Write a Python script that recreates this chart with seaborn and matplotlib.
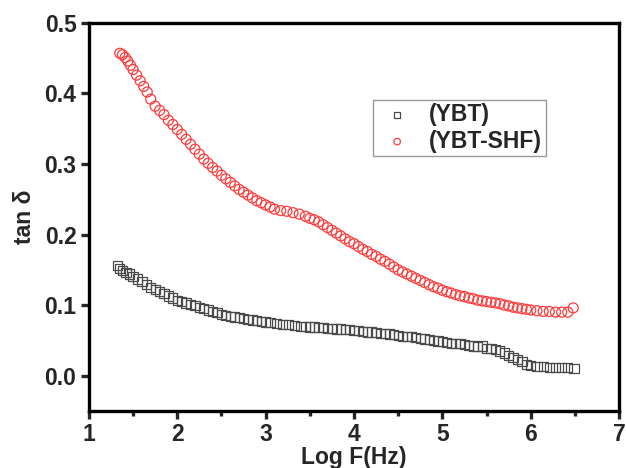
import matplotlib
matplotlib.use("Agg")
import matplotlib.pyplot as plt
import seaborn as sns
from matplotlib.ticker import MultipleLocator

# tan delta vs log frequency
ybt_logf = [1.32, 1.35, 1.38, 1.42, 1.46, 1.50, 1.55, 1.60, 1.65, 1.70,
            1.75, 1.80, 1.85, 1.90, 1.95, 2.00, 2.05, 2.10, 2.15, 2.20,
            2.25, 2.30, 2.35, 2.40, 2.45, 2.50, 2.55, 2.60, 2.65, 2.70,
            2.75, 2.80, 2.85, 2.90, 2.95, 3.00, 3.05, 3.12, 3.19, 3.26,
            3.33, 3.40, 3.45, 3.50, 3.55, 3.60, 3.65, 3.70, 3.75, 3.80,
            3.85, 3.90, 3.95, 4.00, 4.05, 4.10, 4.15, 4.20, 4.25, 4.30,
            4.35, 4.40, 4.45, 4.50, 4.55, 4.60, 4.65, 4.70, 4.75, 4.80,
            4.85, 4.90, 4.95, 5.00, 5.05, 5.10, 5.15, 5.20, 5.25, 5.30,
            5.35, 5.40, 5.45, 5.50, 5.55, 5.60, 5.65, 5.70, 5.75, 5.80,
            5.85, 5.90, 5.95, 6.00, 6.07, 6.14, 6.21, 6.28, 6.35, 6.42,
            6.49]
ybt_tan = [0.156, 0.152, 0.149, 0.146, 0.144, 0.141, 0.137, 0.133, 0.129, 0.125,
           0.122, 0.119, 0.116, 0.113, 0.110, 0.107, 0.105, 0.103, 0.101, 0.099,
           0.097, 0.095, 0.093, 0.091, 0.089, 0.087, 0.085, 0.084, 0.083, 0.082,
           0.081, 0.080, 0.079, 0.078, 0.077, 0.076, 0.075, 0.074, 0.073, 0.072,
           0.071, 0.070, 0.070, 0.069, 0.069, 0.068, 0.068, 0.067, 0.067, 0.066,
           0.066, 0.065, 0.065, 0.064, 0.064, 0.063, 0.062, 0.062, 0.061, 0.060,
           0.060, 0.059, 0.058, 0.057, 0.056, 0.055, 0.055, 0.054, 0.053, 0.052,
           0.051, 0.050, 0.049, 0.048, 0.047, 0.046, 0.045, 0.045, 0.044, 0.043,
           0.042, 0.041, 0.042, 0.039, 0.038, 0.037, 0.035, 0.032, 0.029, 0.026,
           0.023, 0.020, 0.016, 0.014, 0.013, 0.013, 0.012, 0.012, 0.011, 0.011,
           0.010]

shf_logf = [1.35, 1.38, 1.41, 1.44, 1.47, 1.50, 1.54, 1.58, 1.62, 1.66,
            1.70, 1.75, 1.80, 1.85, 1.90, 1.95, 2.00, 2.05, 2.10, 2.15,
            2.20, 2.25, 2.30, 2.35, 2.40, 2.45, 2.50, 2.55, 2.60, 2.65,
            2.70, 2.75, 2.80, 2.85, 2.90, 2.95, 3.00, 3.05, 3.10, 3.17,
            3.24, 3.31, 3.38, 3.45, 3.50, 3.55, 3.60, 3.65, 3.70, 3.75,
            3.80, 3.85, 3.90, 3.95, 4.00, 4.05, 4.10, 4.15, 4.20, 4.25,
            4.30, 4.35, 4.40, 4.45, 4.50, 4.55, 4.60, 4.65, 4.70, 4.75,
            4.80, 4.85, 4.90, 4.95, 5.00, 5.05, 5.10, 5.15, 5.20, 5.25,
            5.30, 5.35, 5.40, 5.45, 5.50, 5.55, 5.60, 5.65, 5.70, 5.75,
            5.80, 5.85, 5.90, 5.95, 6.00, 6.07, 6.14, 6.21, 6.28, 6.35,
            6.42, 6.48]
shf_tan = [0.457, 0.455, 0.451, 0.446, 0.440, 0.434, 0.426, 0.418, 0.410, 0.402,
           0.392, 0.382, 0.376, 0.370, 0.362, 0.356, 0.349, 0.342, 0.335, 0.328,
           0.321, 0.314, 0.307, 0.301, 0.295, 0.290, 0.284, 0.279, 0.274, 0.269,
           0.264, 0.260, 0.256, 0.252, 0.248, 0.245, 0.242, 0.239, 0.236, 0.234,
           0.233, 0.231, 0.229, 0.226, 0.223, 0.221, 0.218, 0.214, 0.210, 0.206,
           0.202, 0.198, 0.194, 0.190, 0.187, 0.183, 0.179, 0.176, 0.172, 0.169,
           0.165, 0.162, 0.158, 0.154, 0.150, 0.147, 0.144, 0.141, 0.138, 0.135,
           0.132, 0.129, 0.126, 0.124, 0.121, 0.119, 0.117, 0.115, 0.113, 0.112,
           0.110, 0.109, 0.107, 0.106, 0.105, 0.104, 0.103, 0.102, 0.100, 0.099,
           0.097, 0.096, 0.095, 0.094, 0.093, 0.092, 0.091, 0.091, 0.090, 0.090,
           0.090, 0.096]

sns.set_style("white")
plt.rcParams["font.family"] = ["Liberation Sans", "DejaVu Sans"]
plt.rcParams["font.weight"] = "bold"

fig = plt.figure(figsize=(6.26, 4.68), dpi=100)
ax = fig.add_axes([0.142, 0.122, 0.847, 0.829])

sns.scatterplot(x=ybt_logf, y=ybt_tan, marker="s", s=44,
                facecolor="none", edgecolor="#4a4a4a", linewidth=0.9,
                label="(YBT)", ax=ax)
sns.scatterplot(x=shf_logf, y=shf_tan, marker="o", s=52,
                facecolor="none", edgecolor="#ff3b3b", linewidth=0.9,
                label="(YBT-SHF)", ax=ax)

ax.set_xlim(1, 7)
ax.set_ylim(-0.05, 0.5)
ax.xaxis.set_major_locator(MultipleLocator(1))
ax.xaxis.set_minor_locator(MultipleLocator(0.5))
ax.yaxis.set_major_locator(MultipleLocator(0.1))
ax.yaxis.set_major_formatter(plt.FormatStrFormatter("%.1f"))

for sp in ax.spines.values():
    sp.set_linewidth(2.4)
    sp.set_color("black")
ax.tick_params(axis="both", which="major", direction="out", length=6,
               width=2.4, labelsize=16.5, pad=3, bottom=True, left=True)
ax.tick_params(axis="x", which="minor", direction="out", length=3.5,
               width=2.4, bottom=True)

ax.set_xlabel("Log F(Hz)", fontsize=16.5, fontweight="bold", labelpad=0)
ax.set_ylabel("tan δ", fontsize=16.5, fontweight="bold", labelpad=6)

leg = ax.legend(loc="upper left", bbox_to_anchor=(0.536, 0.802),
                fancybox=False, frameon=True, fontsize=16.5,
                markerscale=0.65, borderpad=0.15, labelspacing=0.15,
                handlelength=1.8, handletextpad=0.5, borderaxespad=0)
leg.get_frame().set_edgecolor("#808080")
leg.get_frame().set_linewidth(1.0)
for t in leg.get_texts():
    t.set_fontweight("bold")

fig.savefig("out.png", dpi=100)
